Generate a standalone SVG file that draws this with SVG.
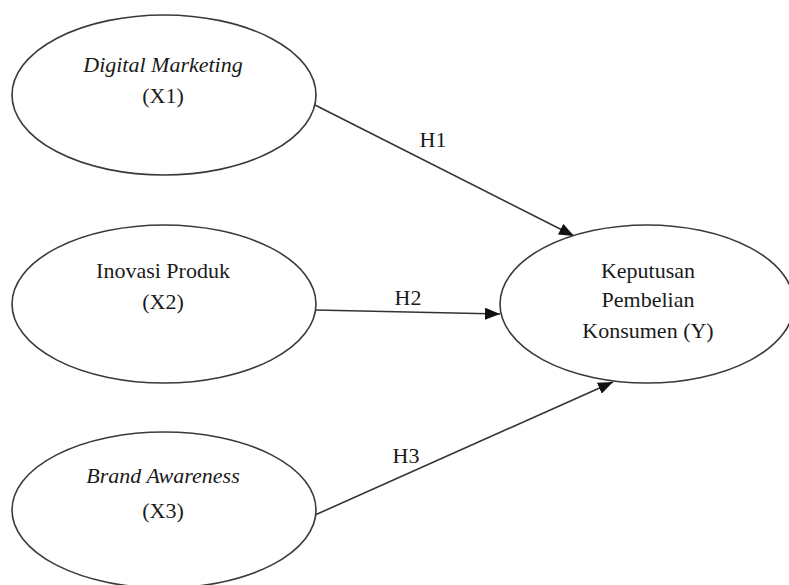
<svg xmlns="http://www.w3.org/2000/svg" width="789" height="585" viewBox="0 0 789 585">
<style>
.node ellipse{fill:#fff;stroke:#3a3a3a;stroke-width:1.6}
text{font-family:"Liberation Serif","Times New Roman",serif;font-size:22px;fill:#1a1a1a;text-anchor:middle}
.it{font-style:italic}
.edge{stroke:#333;stroke-width:1.6;fill:none;marker-end:url(#arr)}
</style>
<defs>
<marker id="arr" markerUnits="userSpaceOnUse" markerWidth="16" markerHeight="12" refX="15" refY="6" orient="auto">
<path d="M0,0 L15,6 L0,12 z" fill="#111"/>
</marker>
</defs>
<rect width="789" height="585" fill="#fff"/>
<g id="connectors">
<line class="edge" x1="315" y1="105" x2="574" y2="236"/>
<line class="edge" x1="315" y1="310" x2="500" y2="314"/>
<line class="edge" x1="315" y1="515" x2="613" y2="382"/>
<text x="433" y="147">H1</text>
<text x="408" y="305">H2</text>
<text x="406" y="463">H3</text>
</g>
<g id="x1" class="node">
<ellipse cx="164" cy="95" rx="152" ry="80"/>
<text class="it" x="163" y="72">Digital Marketing</text>
<text x="163" y="103">(X1)</text>
</g>
<g id="x2" class="node">
<ellipse cx="164" cy="304" rx="152" ry="79"/>
<text x="163" y="278">Inovasi Produk</text>
<text x="163" y="309">(X2)</text>
</g>
<g id="x3" class="node">
<ellipse cx="164" cy="510" rx="152" ry="78"/>
<text class="it" x="163" y="483">Brand Awareness</text>
<text x="163" y="518">(X3)</text>
</g>
<g id="y" class="node">
<ellipse cx="647" cy="304" rx="147" ry="79"/>
<text x="648" y="278">Keputusan</text>
<text x="648" y="307">Pembelian</text>
<text x="648" y="338">Konsumen (Y)</text>
</g>
</svg>
